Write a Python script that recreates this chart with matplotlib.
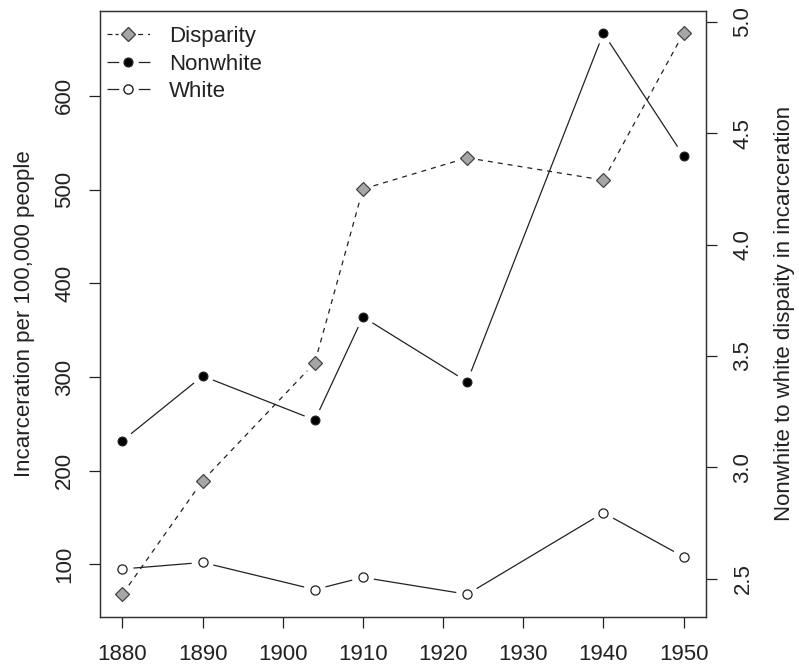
import numpy as np
import matplotlib
matplotlib.use("Agg")
import matplotlib.pyplot as plt
from matplotlib.lines import Line2D

# data
years = [1880, 1890, 1904, 1910, 1923, 1940, 1950]
nonwhite = [232, 301, 254, 364, 295, 667, 536]
white = [95, 102, 73, 86, 68, 155, 108]
disparity = [2.43, 2.94, 3.47, 4.25, 4.39, 4.29, 4.95]

x_ticks = [1880, 1890, 1900, 1910, 1920, 1930, 1940, 1950]
left_ticks = [100, 200, 300, 400, 500, 600]
right_ticks = [2.5, 3.0, 3.5, 4.0, 4.5, 5.0]

plt.rcParams["font.family"] = ["Liberation Sans", "DejaVu Sans"]
plt.rcParams["lines.scale_dashes"] = False
INK = "#222222"
FS = 16
DASH = (0, (3.6, 3.6))


def r_range(vals):
    # R-style 4% padding on each side
    lo, hi = min(vals), max(vals)
    pad = (hi - lo) * 0.04
    return lo - pad, hi + pad


def draw_b(ax, xs, ys, gap=11, **kw):
    """Draw line segments that stop short of the points, like R type='b'."""
    pix = ax.transData.transform(np.column_stack([xs, ys]))
    inv = ax.transData.inverted()
    for p0, p1 in zip(pix[:-1], pix[1:]):
        d = p1 - p0
        L = np.hypot(*d)
        if L <= 2 * gap:
            continue
        u = d / L
        a = inv.transform(p0 + u * gap)
        b = inv.transform(p1 - u * gap)
        ax.plot([a[0], b[0]], [a[1], b[1]], **kw)


fig = plt.figure(figsize=(7.99, 6.65), dpi=100)
ax = fig.add_axes([0.1252, 0.0726, 0.7584, 0.9113])
ax2 = ax.twinx()

ax.set_xlim(*r_range(years))
ax.set_ylim(*r_range(nonwhite + white))
ax2.set_ylim(*r_range(disparity))

line_kw = dict(color=INK, lw=0.9, solid_capstyle="butt")
draw_b(ax, years, nonwhite, **line_kw)
draw_b(ax, years, white, **line_kw)
draw_b(ax2, years, disparity, color=INK, lw=0.9, linestyle=DASH)

ax.plot(years, nonwhite, "o", ms=6.3, mfc="black", mec=INK, mew=0.9, zorder=3)
ax.plot(years, white, "o", ms=6.6, mfc="white", mec=INK, mew=0.9, zorder=3)
ax2.plot(years, disparity, "D", ms=7.2, mfc="#a6a6a6", mec="#444444",
         mew=0.9, zorder=3)

ax.set_xticks(x_ticks)
ax.set_yticks(left_ticks)
ax2.set_yticks(right_ticks)
ax2.set_yticklabels([f"{v:.1f}" for v in right_ticks])

for a in (ax, ax2):
    a.tick_params(length=8, width=0.9, color=INK, labelcolor=INK,
                  labelsize=FS, direction="out")
    for s in a.spines.values():
        s.set_color("#333333")
        s.set_linewidth(0.9)
ax.tick_params(axis="x", pad=12)
ax.tick_params(axis="y", pad=10)
ax2.tick_params(axis="y", pad=11)
for lab in ax.get_yticklabels():
    lab.set_rotation(90)
    lab.set_va("center")
for lab in ax2.get_yticklabels():
    lab.set_rotation(90)
    lab.set_va("center")

ax.set_ylabel("Incarceration per 100,000 people", fontsize=FS, color=INK,
              labelpad=14)
ax2.set_ylabel("Nonwhite to white dispaity in incarceration", fontsize=FS,
               color=INK, labelpad=15)

# legend keys with the line broken around the symbol, as in R
solid_key = (0, (8.5, 14, 10, 10))
dash_key = (0, (3.6, 2.2, 2.2, 14, 3.6, 3.6, 1.5, 10))
handles = [
    Line2D([], [], color=INK, lw=0.9, linestyle=dash_key, marker="D",
           ms=7.2, mfc="#a6a6a6", mec="#444444"),
    Line2D([], [], color=INK, lw=0.9, linestyle=solid_key, marker="o",
           ms=6.3, mfc="black", mec=INK),
    Line2D([], [], color=INK, lw=0.9, linestyle=solid_key, marker="o",
           ms=6.6, mfc="white", mec=INK),
]
ax2.legend(handles, ["Disparity", "Nonwhite", "White"], loc="upper left",
           bbox_to_anchor=(0.011, 0.975), frameon=False, fontsize=FS,
           handlelength=1.95, handletextpad=0.85, labelspacing=0.3,
           borderaxespad=0, borderpad=0, labelcolor=INK)

fig.savefig("out.png", dpi=100)
